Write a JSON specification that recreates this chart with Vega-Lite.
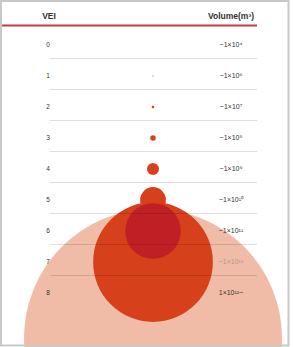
{
  "$schema": "https://vega.github.io/schema/vega-lite/v6.json",
  "width": 293,
  "height": 347,
  "autosize": {"type": "none"},
  "padding": 0,
  "background": "white",
  "config": {"view": {"stroke": null}, "font": "Liberation Sans"},
  "data": {
    "values": [
      {"VEI": 0, "volume": 1e4, "label": "~1×10⁴"},
      {"VEI": 1, "volume": 1e6, "label": "~1×10⁶"},
      {"VEI": 2, "volume": 1e7, "label": "~1×10⁷"},
      {"VEI": 3, "volume": 1e8, "label": "~1×10⁸"},
      {"VEI": 4, "volume": 1e9, "label": "~1×10⁹"},
      {"VEI": 5, "volume": 1e10, "label": "~1×10¹⁰"},
      {"VEI": 6, "volume": 1e11, "label": "~1×10¹¹"},
      {"VEI": 7, "volume": 1e12, "label": "~1×10¹²"},
      {"VEI": 8, "volume": 1e13, "label": "1×10¹²~"}
    ]
  },
  "layer": [
    {
      "transform": [{"filter": "datum.VEI === 8"}],
      "mark": {"type": "circle", "opacity": 1, "color": "#f1bca7", "yOffset": 45, "clip": true},
      "encoding": {
        "x": {"datum": 153, "type": "quantitative", "scale": {"domain": [0, 293], "nice": false, "zero": false}, "axis": null},
        "y": {"field": "VEI", "type": "quantitative", "scale": {"domain": [-1.4516, 9.742], "nice": false, "zero": false, "reverse": true}, "axis": null},
        "size": {"field": "volume", "type": "quantitative", "scale": {"type": "pow", "exponent": 0.6667, "domain": [0, 1e13], "range": [0, 66564]}, "legend": null}
      }
    },
    {
      "transform": [{"filter": "datum.VEI >= 1 && datum.VEI <= 7 && datum.VEI !== 6"}],
      "mark": {"type": "circle", "opacity": 1, "color": "#d6411b"},
      "encoding": {
        "x": {"datum": 153, "type": "quantitative"},
        "y": {"field": "VEI", "type": "quantitative"},
        "size": {"field": "volume", "type": "quantitative", "legend": null},
        "order": {"field": "volume", "sort": "descending"}
      }
    },
    {
      "transform": [{"filter": "datum.VEI === 6"}],
      "mark": {"type": "circle", "opacity": 1, "color": "#c01f26"},
      "encoding": {
        "x": {"datum": 153, "type": "quantitative"},
        "y": {"field": "VEI", "type": "quantitative"},
        "size": {"field": "volume", "type": "quantitative", "legend": null}
      }
    },
    {
      "transform": [{"filter": "datum.VEI < 8"}],
      "mark": {"type": "rule", "color": "#000000", "opacity": 0.13, "strokeWidth": 1, "yOffset": 13.5},
      "encoding": {
        "x": {"datum": 50, "type": "quantitative"},
        "x2": {"datum": 257},
        "y": {"field": "VEI", "type": "quantitative"}
      }
    },
    {
      "mark": {"type": "text", "fontSize": 6.5, "color": "#333333", "align": "center", "baseline": "middle"},
      "encoding": {
        "x": {"datum": 48, "type": "quantitative"},
        "y": {"field": "VEI", "type": "quantitative"},
        "text": {"field": "VEI", "type": "nominal"}
      }
    },
    {
      "mark": {"type": "text", "fontSize": 7, "align": "center", "baseline": "middle"},
      "encoding": {
        "x": {"datum": 231, "type": "quantitative"},
        "y": {"field": "VEI", "type": "quantitative"},
        "text": {"field": "label", "type": "nominal"},
        "color": {"condition": {"test": "datum.VEI === 7", "value": "#b39488"}, "value": "#333333"}
      }
    },
    {
      "transform": [{"filter": "datum.VEI === 0"}],
      "mark": {"type": "text", "text": "VEI", "fontSize": 8.5, "fontWeight": "bold", "color": "#333333", "align": "center", "baseline": "middle"},
      "encoding": {
        "x": {"datum": 49, "type": "quantitative"},
        "y": {"datum": -0.935, "type": "quantitative"}
      }
    },
    {
      "transform": [{"filter": "datum.VEI === 0"}],
      "mark": {"type": "text", "text": "Volume(m³)", "fontSize": 8.5, "fontWeight": "bold", "color": "#333333", "align": "center", "baseline": "middle"},
      "encoding": {
        "x": {"datum": 231, "type": "quantitative"},
        "y": {"datum": -0.935, "type": "quantitative"}
      }
    },
    {
      "transform": [{"filter": "datum.VEI === 0"}],
      "mark": {"type": "rule", "color": "#c23b45", "strokeWidth": 2},
      "encoding": {
        "x": {"datum": 1, "type": "quantitative"},
        "x2": {"datum": 257},
        "y": {"datum": -0.63, "type": "quantitative"}
      }
    },
    {
      "transform": [{"filter": "datum.VEI === 0"}],
      "mark": {"type": "rect", "fill": "white", "fillOpacity": 0, "stroke": "#c8c8c8", "strokeWidth": 2},
      "encoding": {
        "x": {"datum": 1, "type": "quantitative"},
        "x2": {"datum": 288.5},
        "y": {"datum": -1.42, "type": "quantitative"},
        "y2": {"datum": 9.69}
      }
    }
  ]
}
